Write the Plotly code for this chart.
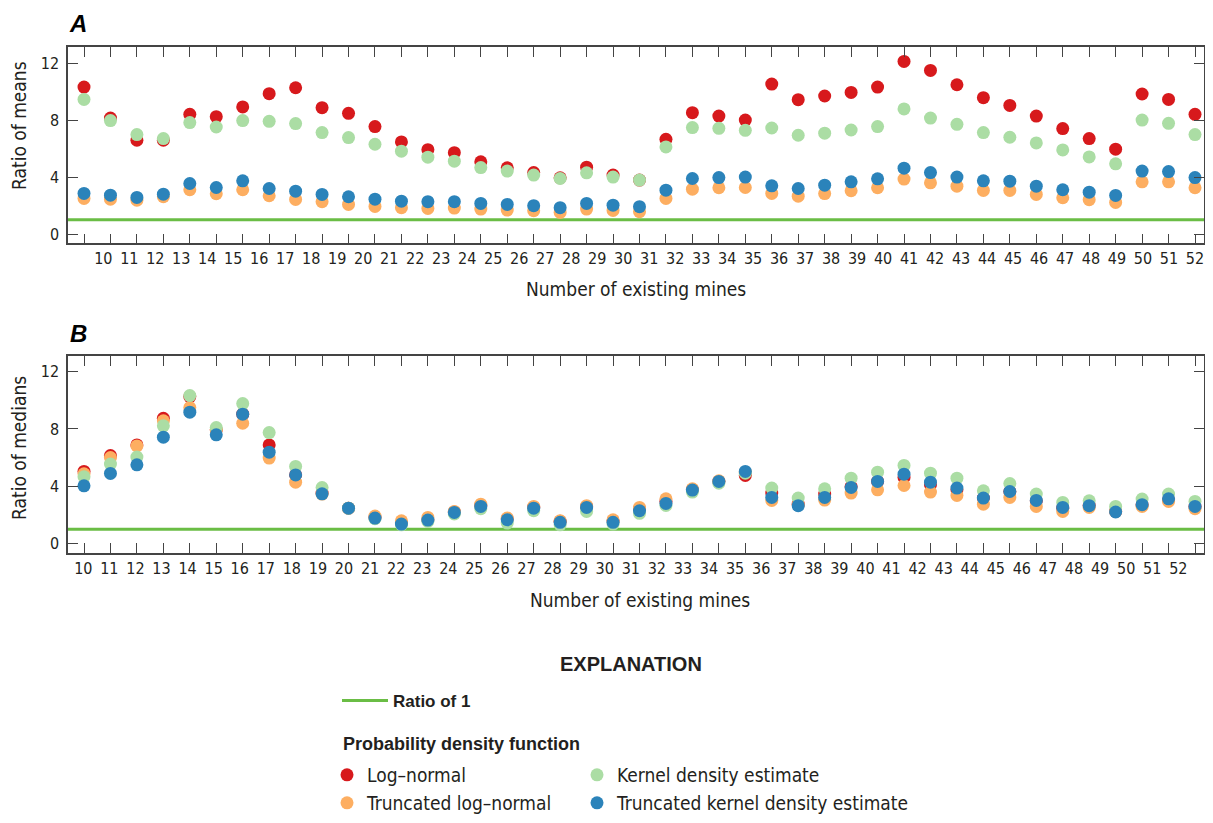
import plotly.graph_objects as go

# ---------------- data ----------------
mines = list(range(10, 53))
tick_labels = [str(m) for m in mines]

mean_lognormal = [10.33, 8.15, 6.59, 6.59, 8.41, 8.25, 8.93, 9.86, 10.28, 8.88,
                  8.48, 7.55, 6.47, 5.93, 5.72, 5.07, 4.65, 4.32, 3.95, 4.70,
                  4.14, 3.79, 6.66, 8.53, 8.29, 8.01, 10.54, 9.44, 9.70, 9.95,
                  10.33, 12.13, 11.50, 10.49, 9.58, 9.04, 8.29, 7.41, 6.71, 5.96,
                  9.84, 9.46, 8.41]
mean_trunc_lognormal = [2.50, 2.45, 2.38, 2.62, 3.11, 2.83, 3.11, 2.69, 2.43, 2.27,
                        2.08, 1.94, 1.85, 1.80, 1.82, 1.75, 1.68, 1.64, 1.52, 1.75,
                        1.66, 1.57, 2.50, 3.15, 3.25, 3.27, 2.85, 2.66, 2.84, 3.04,
                        3.25, 3.86, 3.60, 3.36, 3.06, 3.06, 2.78, 2.55, 2.41, 2.22,
                        3.67, 3.67, 3.25]
mean_kde = [9.46, 7.97, 6.99, 6.71, 7.83, 7.52, 7.97, 7.92, 7.76, 7.13,
            6.78, 6.31, 5.82, 5.40, 5.12, 4.67, 4.42, 4.14, 3.90, 4.30,
            4.00, 3.79, 6.12, 7.48, 7.43, 7.29, 7.45, 6.94, 7.09, 7.31,
            7.55, 8.79, 8.15, 7.71, 7.13, 6.80, 6.40, 5.91, 5.42, 4.93,
            8.01, 7.78, 6.99]
mean_trunc_kde = [2.85, 2.73, 2.57, 2.80, 3.55, 3.27, 3.74, 3.20, 3.01, 2.78,
                  2.62, 2.45, 2.31, 2.27, 2.27, 2.15, 2.08, 1.99, 1.85, 2.15,
                  2.03, 1.92, 3.08, 3.90, 3.97, 4.00, 3.39, 3.20, 3.43, 3.67,
                  3.88, 4.63, 4.32, 4.00, 3.74, 3.71, 3.36, 3.11, 2.94, 2.71,
                  4.42, 4.39, 3.97]

median_lognormal = [5.04, 6.15, 6.89, 8.75, 10.26, 7.94, 9.03, 6.89, 4.80, 3.53,
                    2.48, 1.83, 1.44, 1.67, 2.21, 2.67, 1.74, 2.55, 1.56, 2.60,
                    1.60, 2.43, 2.95, 3.78, 4.34, 4.76, 3.53, 2.76, 3.46, 3.99,
                    4.34, 4.62, 4.11, 3.76, 3.18, 3.64, 2.99, 2.48, 2.67, 2.25,
                    2.72, 3.06, 2.60]
median_trunc_lognormal = [4.87, 6.01, 6.82, 8.57, 9.49, 7.94, 8.40, 5.97, 4.29, 3.46,
                          2.48, 1.93, 1.60, 1.83, 2.25, 2.76, 1.79, 2.60, 1.60, 2.65,
                          1.67, 2.53, 3.13, 3.83, 4.39, 4.99, 3.02, 2.72, 3.04, 3.53,
                          3.76, 4.06, 3.60, 3.37, 2.76, 3.23, 2.60, 2.25, 2.53, 2.25,
                          2.60, 2.95, 2.44]
median_kde = [4.67, 5.55, 6.04, 8.22, 10.33, 8.10, 9.77, 7.75, 5.39, 3.92,
              2.48, 1.74, 1.32, 1.56, 2.07, 2.44, 1.44, 2.30, 1.32, 2.25,
              1.37, 2.12, 2.67, 3.60, 4.22, 4.92, 3.88, 3.18, 3.83, 4.57,
              4.99, 5.46, 4.92, 4.57, 3.69, 4.20, 3.46, 2.88, 2.99, 2.60,
              3.11, 3.46, 2.95]
median_trunc_kde = [4.04, 4.90, 5.50, 7.43, 9.17, 7.59, 9.03, 6.38, 4.80, 3.48,
                    2.48, 1.79, 1.37, 1.65, 2.18, 2.60, 1.67, 2.48, 1.49, 2.53,
                    1.49, 2.30, 2.81, 3.74, 4.34, 5.04, 3.23, 2.65, 3.23, 3.92,
                    4.34, 4.85, 4.29, 3.88, 3.18, 3.64, 3.02, 2.53, 2.65, 2.21,
                    2.72, 3.13, 2.60]

ratio_reference = 1
y_ticks = [0, 4, 8, 12]

# ---------------- style ----------------
COL_LN = "#d7191c"
COL_TLN = "#fdae61"
COL_KDE = "#abdda4"
COL_TKDE = "#2b83ba"
COL_REF = "#6abd45"
AXIS_COL = "#444444"
TEXT_COL = "#231f20"
COND = "DejaVu Sans Condensed, DejaVu Sans, sans-serif"
BOLD_FONT = "Liberation Sans, Arial, sans-serif"

PAGE_OFF = 8  # default body margin of the page
FIG_W, FIG_H = 1213 - 2 * PAGE_OFF, 823 - 2 * PAGE_OFF
PLOT_L, PLOT_R, PLOT_T, PLOT_B = 68, 1204, 47, 553  # page pixels of the plotting area
M_L = PLOT_L - PAGE_OFF
M_T = PLOT_T - PAGE_OFF
M_R = FIG_W - (PLOT_R - PAGE_OFF)
M_B = FIG_H - (PLOT_B - PAGE_OFF)
PW = FIG_W - M_L - M_R
PH = FIG_H - M_T - M_B


def px_x(px):
    return (px - PLOT_L) / PW


def px_y(py):
    return (PLOT_B - py) / PH


def x_range(v0, p0, v1, p1):
    """axis range so that value v0 sits at page pixel p0 and v1 at p1"""
    s = (p1 - p0) / (v1 - v0)
    return [v0 - (p0 - PLOT_L) / s, v1 + (PLOT_R - p1) / s]


series = [
    ("Log\u2013normal", COL_LN, mean_lognormal, median_lognormal, "legend2"),
    ("Truncated log\u2013normal", COL_TLN, mean_trunc_lognormal, median_trunc_lognormal, "legend4"),
    ("Kernel density estimate", COL_KDE, mean_kde, median_kde, "legend3"),
    ("Truncated kernel density estimate", COL_TKDE, mean_trunc_kde, median_trunc_kde, "legend5"),
]

fig = go.Figure()
for name, col, vals_a, vals_b, leg in series:
    fig.add_trace(go.Scatter(x=mines, y=vals_a, mode="markers", name=name,
                             marker=dict(color=col, size=13, line=dict(width=0)),
                             xaxis="x", yaxis="y", legend=leg, showlegend=True))
for name, col, vals_a, vals_b, leg in series:
    fig.add_trace(go.Scatter(x=mines, y=vals_b, mode="markers", name=name,
                             marker=dict(color=col, size=13, line=dict(width=0)),
                             xaxis="x2", yaxis="y2", showlegend=False))

# empty traces that carry the (label-only) overlay axes
fig.add_trace(go.Scatter(x=[], y=[], xaxis="x3", yaxis="y", showlegend=False, hoverinfo="skip"))
fig.add_trace(go.Scatter(x=[], y=[], xaxis="x4", yaxis="y2", showlegend=False, hoverinfo="skip"))

tick_font = dict(family=COND, size=16, color=TEXT_COL)
frame = dict(showline=True, linecolor=AXIS_COL, linewidth=1.5, mirror="ticks",
             ticks="inside", ticklen=10, tickwidth=1.3, tickcolor=AXIS_COL,
             showgrid=False, zeroline=False, automargin=False)
label_axis = dict(showline=False, ticks="", showgrid=False, zeroline=False,
                  side="bottom", tickfont=tick_font, ticklabelstandoff=4,
                  automargin=False, ticklabeloverflow="allow")

main_range = x_range(mines[0], 84, mines[-1], 1195)
labels_a_range = x_range(mines[0], 103.3, mines[-1], 1195)
labels_b_range = x_range(mines[0], 83.3, mines[-1], 1178.3)
dom_a = [px_y(243.3), 1]
dom_b = [0, px_y(356)]

leg_common = dict(xanchor="left", yanchor="middle", bgcolor="rgba(0,0,0,0)",
                  font=dict(family=COND, size=19, color=TEXT_COL))
ROW1, ROW2 = 775, 803
COLX1, COLX2 = 347 - 20, 597 - 20

fig.update_layout(
    width=FIG_W, height=FIG_H,
    margin=dict(l=M_L, r=M_R, t=M_T, b=M_B, autoexpand=False),
    paper_bgcolor="white", plot_bgcolor="white",
    xaxis=dict(domain=[0, 1], anchor="y", range=main_range, tickvals=mines,
               showticklabels=False, **frame),
    xaxis3=dict(overlaying="x", anchor="y", range=labels_a_range, tickvals=mines,
                ticktext=tick_labels, **label_axis),
    yaxis=dict(domain=dom_a, anchor="x", range=[-0.653, 13.144], tickvals=y_ticks,
               tickfont=tick_font, ticklabelstandoff=4, **frame),
    xaxis2=dict(domain=[0, 1], anchor="y2", range=main_range, tickvals=mines,
                showticklabels=False, **frame),
    xaxis4=dict(overlaying="x2", anchor="y2", range=labels_b_range, tickvals=mines,
                ticktext=tick_labels, **label_axis),
    yaxis2=dict(domain=dom_b, anchor="x2", range=[-0.648, 13.09], tickvals=y_ticks,
                tickfont=tick_font, ticklabelstandoff=4, **frame),
    legend=dict(x=px_x(337), y=px_y(701), xanchor="left", yanchor="middle",
                bgcolor="rgba(0,0,0,0)", itemwidth=46,
                font=dict(family=BOLD_FONT, size=17, color=TEXT_COL)),
    legend2=dict(x=px_x(COLX1), y=px_y(ROW1), **leg_common),
    legend3=dict(x=px_x(COLX2), y=px_y(ROW1), **leg_common),
    legend4=dict(x=px_x(COLX1), y=px_y(ROW2), **leg_common),
    legend5=dict(x=px_x(COLX2), y=px_y(ROW2), **leg_common),
)

for xr, yr, show in (("x domain", "y", True), ("x2 domain", "y2", False)):
    fig.add_shape(type="line", xref=xr, x0=0, x1=1, yref=yr,
                  y0=ratio_reference, y1=ratio_reference,
                  line=dict(color=COL_REF, width=3), layer="below",
                  showlegend=show, name="<b>Ratio of 1</b>", legend="legend")

title_font = dict(family=COND, size=19, color=TEXT_COL)
letter_font = dict(family="Liberation Sans, Arial, sans-serif", size=24, color="#000")
annos = [
    ("<b><i>A</i></b>", 77.5, 23.5, 0, letter_font, "center"),
    ("<b><i>B</i></b>", 78, 333, 0, letter_font, "center"),
    ("Ratio of means", 19, 126, -90, title_font, "center"),
    ("Ratio of medians", 19, 448, -90, title_font, "center"),
    ("Number of existing mines", 636, 289, 0, title_font, "center"),
    ("Number of existing mines", 640, 600, 0, title_font, "center"),
    ("<b>EXPLANATION</b>", 631, 664, 0, dict(family=BOLD_FONT, size=20, color=TEXT_COL), "center"),
    ("<b>Probability density function</b>", 341, 744, 0, dict(family=BOLD_FONT, size=18, color=TEXT_COL), "left"),
]
for text, x, y, ang, f, xa in annos:
    fig.add_annotation(text=text, x=px_x(x), y=px_y(y), xref="paper", yref="paper",
                       xanchor=xa, yanchor="middle", showarrow=False,
                       textangle=ang, font=f)

fig.write_html("out.html")
